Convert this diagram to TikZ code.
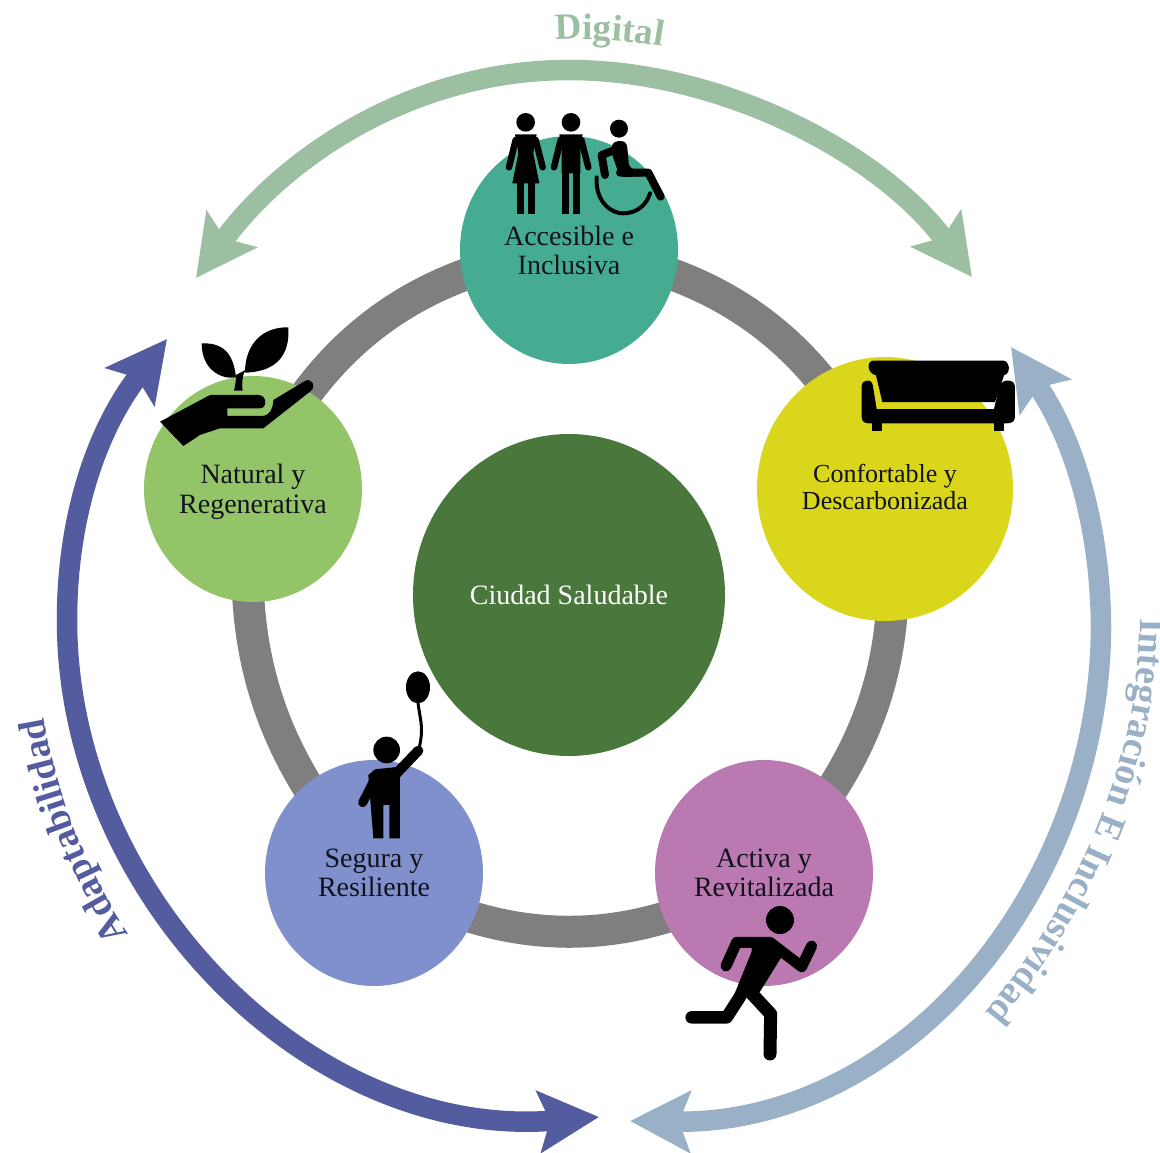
\documentclass[tikz,border=0pt]{standalone}
\usepackage{fontspec}
\setmainfont{Liberation Serif}
\usetikzlibrary{arrows.meta,decorations.text,shapes.geometric,backgrounds}
\definecolor{cA}{HTML}{45AC92}
\definecolor{cN}{HTML}{94C468}
\definecolor{cC}{HTML}{D9D61C}
\definecolor{cS}{HTML}{8090CC}
\definecolor{cV}{HTML}{BA79B1}
\definecolor{cM}{HTML}{4A773C}
\definecolor{cR}{HTML}{7F7F7F}
\definecolor{cDig}{HTML}{9BBFA0}
\definecolor{cAda}{HTML}{525C9E}
\definecolor{cInt}{HTML}{9AB0C6}
\definecolor{cTxt}{HTML}{10121C}
\tikzset{
  disc/.style={ellipse,inner sep=0pt,align=center,text=cTxt,font=\fontsize{28}{29}\selectfont},
  disctext/.style={inner sep=0pt,align=center,text=cTxt},
  ringarc/.style={draw=cR,line width=32pt},
  bigarrow/.style={line width=20.5pt,{Stealth[length=60pt,width=61pt,inset=11pt]}-{Stealth[length=60pt,width=61pt,inset=11pt]}},
  ico/.style={line cap=round,line join=round,draw=black}
}
\begin{document}
\begin{tikzpicture}[x=1pt,y=-1pt]
\useasboundingbox (0,0) rectangle (1160,1152);
% discs
\node[disc,fill=cM,text=white,minimum width=312pt,minimum height=322pt] (centro) at (569,595) {Ciudad Saludable};
\node[disc,fill=cA,minimum width=218pt,minimum height=228pt] (acc) at (569,250) {Accesible e\\Inclusiva};
\node[disc,fill=cN,minimum width=218pt,minimum height=226pt] (nat) at (253,489) {};
\node[disc,fill=cC,minimum width=256pt,minimum height=264pt] (con) at (885,489) {};
\node[disc,fill=cS,minimum width=218pt,minimum height=226pt] (seg) at (374,873) {Segura y\\Resiliente};
\node[disc,fill=cV,minimum width=218pt,minimum height=226pt] (act) at (764,873) {Activa y\\Revitalizada};
\node[disctext,font=\fontsize{28}{30}\selectfont] (natT) at (253,492) {Natural y\\Regenerativa};
\node[disctext,font=\fontsize{26}{27}\selectfont] (conT) at (885,487) {Confortable y\\Descarbonizada};
% ring
\begin{scope}[on background layer]
\draw[ringarc] (acc.center) to[bend left=30] (con.center);
\draw[ringarc] (con.center) to[bend left=27] (act.center);
\draw[ringarc] (act.center) to[bend left=31] (seg.center);
\draw[ringarc] (seg.center) to[bend left=25] (nat.center);
\draw[ringarc] (nat.center) to[bend left=30] (acc.center);
\end{scope}
% outer arrows
\coordinate (dL) at (196,278); \coordinate (dT) at (569,70); \coordinate (dR) at (972,277);
\draw[bigarrow,draw=cDig] (dL) .. controls (285,156) and (414,70) .. (dT) .. controls (724,70) and (882,155) .. (dR);
\coordinate (aT) at (167,339); \coordinate (aM) at (67,620); \coordinate (aB) at (599,1117);
\draw[bigarrow,draw=cAda] (aT) .. controls (95,432) and (67,520) .. (aM) .. controls (67,895) and (310,1140) .. (aB);
\coordinate (iT) at (1011,347); \coordinate (iM) at (1101,630); \coordinate (iB) at (630,1121);
\draw[bigarrow,draw=cInt] (iT) .. controls (1075,440) and (1101,530) .. (iM) .. controls (1098,895) and (900,1125) .. (iB);
% curved labels
\coordinate (tDa) at (556,40); \coordinate (tDb) at (690,52);
\path[decorate,decoration={text along path,text={|\color{cDig}\bfseries\fontsize{37}{37}\selectfont|Digital}}]
  (tDa) .. controls (600,37) and (645,42) .. (tDb);
\coordinate (tAa) at (129,934); \coordinate (tAb) at (40,690);
\path[decorate,decoration={text along path,text={|\color{cAda}\bfseries\fontsize{38}{38}\selectfont|Adaptabilidad}}]
  (tAa) .. controls (86,868) and (52,790) .. (tAb);
\coordinate (tIa) at (1140,618); \coordinate (tIb) at (972,1028);
\path[decorate,decoration={text along path,text={|\color{cInt}\bfseries\fontsize{38}{38}\selectfont|Integración E Inclusividad}}]
  (tIa) .. controls (1140,760) and (1078,908) .. (tIb);
% people, traced in 3x crop coordinates
\begin{scope}[shift={(480,90)},x=0.3333pt,y=-0.3333pt]
\fill (137,97) circle[radius=28];
\draw[ico,line width=6.5pt] (107,150)--(87,232);
\draw[ico,line width=6.5pt] (167,150)--(188,232);
\fill (105,133)--(170,133)--(160,190)--(178,280)--(97,280)--(115,190)--cycle;
\fill (112,270) rectangle (133,372);
\fill (143,270) rectangle (165,372);
\fill (273,97) circle[radius=28];
\draw[ico,line width=6.5pt] (242,150)--(222,232);
\draw[ico,line width=6.5pt] (304,150)--(325,232);
\fill (238,133)--(308,133)--(301,175)--(301,250)--(245,250)--(245,175)--cycle;
\fill (245,245) rectangle (267,372);
\fill (278,245) rectangle (300,372);
\fill (417,116) circle[radius=27];
\draw[ico,line width=8pt] (425,172)--(365,195)--(375,255);
\fill[rounded corners=6pt] (395,155)--(440,152)--(448,238)--(500,238)--(500,258)--(420,262)--(395,190)--cycle;
\draw[ico,line width=8pt] (420,248)--(505,248)--(542,320);
\draw[line width=4pt,line cap=round] (350,262) .. controls (345,340) and (400,372) .. (430,370) .. controls (470,370) and (500,345) .. (510,310);
\end{scope}
% plant and hand
\begin{scope}[shift={(150,320)},x=0.3333pt,y=-0.3333pt]
\fill (155,70) .. controls (215,68) and (250,95) .. (258,172) .. controls (215,180) and (155,150) .. (155,70) -- cycle;
\fill (415,22) .. controls (420,100) and (385,155) .. (285,158) .. controls (285,70) and (340,20) .. (415,22) -- cycle;
\fill (252,212) .. controls (255,200) and (258,185) .. (258,165) -- (286,150) .. controls (276,170) and (275,190) .. (278,212) -- cycle;
\fill (30,305)--(180,225)--(325,225) .. controls (352,225) and (352,265) .. (330,265) --(232,265)--(232,288)--(335,288) .. controls (360,288) and (370,262) .. (370,240) --(465,183) .. controls (485,172) and (502,200) .. (480,215) --(340,325)--(210,325)--(150,345)--(100,378)--cycle;
\end{scope}
% sofa
\begin{scope}[shift={(850,340)},x=0.3333pt,y=-0.3333pt]
\fill (70,62)--(460,62) .. controls (478,62) and (485,100) .. (462,106) --(435,186)--(97,186)--(78,106) .. controls (50,100) and (50,62) .. (70,62) -- cycle;
\fill (50,122) .. controls (65,120) and (68,130) .. (70,145) --(80,207)--(432,207)--(448,140) .. controls (452,125) and (465,120) .. (478,122) .. controls (490,124) and (495,130) .. (495,145) --(495,230) .. controls (495,245) and (485,250) .. (470,250) --(55,250) .. controls (42,250) and (35,242) .. (35,230) --(35,140) .. controls (35,128) and (42,122) .. (50,122) -- cycle;
\fill (65,245) rectangle (95,272);
\fill (432,245) rectangle (462,272);
\end{scope}
% child with balloon
\begin{scope}[shift={(340,660)},x=0.3333pt,y=-0.3333pt]
\fill (234,82) ellipse[x radius=36,y radius=48];
\draw[line width=3pt,line cap=round] (234,128) .. controls (240,180) and (252,200) .. (238,262);
\fill (140,270) circle[radius=40];
\draw[ico,line width=10pt] (170,340)--(235,272);
\draw[ico,line width=9pt] (105,355)--(68,428);
\fill (85,345)--(105,328)--(180,320)--(180,535)--(148,535)--(148,435)--(130,435)--(130,535)--(100,535)--cycle;
\end{scope}
% runner
\begin{scope}[shift={(670,890)},x=0.3333pt,y=-0.3333pt]
\fill (330,90) circle[radius=42];
\draw[ico,line width=11pt] (300,157)--(200,157)--(168,228);
\draw[ico,line width=11pt] (300,157)--(395,230)--(425,168);
\fill (245,150)--(305,145)--(335,200)--(270,305)--(225,325)--(180,345)--(245,185)--cycle;
\draw[ico,line width=12.5pt] (210,320)--(170,382)--(65,382);
\draw[ico,line width=13pt] (240,305)--(302,372)--(300,492);
\end{scope}
\end{tikzpicture}
\end{document}
